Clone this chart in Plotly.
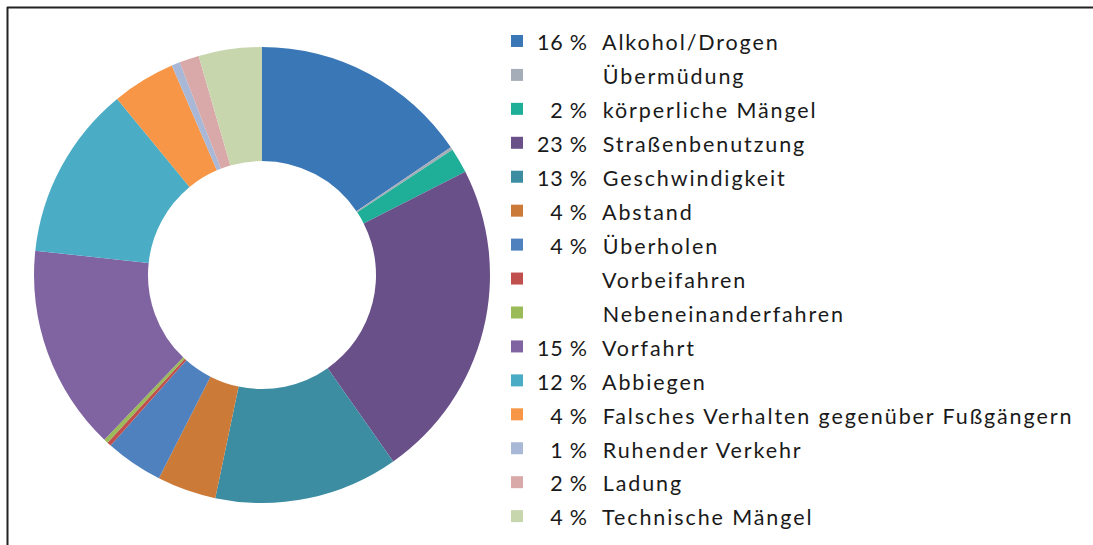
import plotly.graph_objects as go

categories = ["Alkohol/Drogen", "Übermüdung", "körperliche Mängel", "Straßenbenutzung",
              "Geschwindigkeit", "Abstand", "Überholen", "Vorbeifahren",
              "Nebeneinanderfahren", "Vorfahrt", "Abbiegen",
              "Falsches Verhalten gegenüber Fußgängern", "Ruhender Verkehr",
              "Ladung", "Technische Mängel"]
values = [15.6, 0.2, 1.8, 22.8, 13.1, 4.2, 4.1, 0.3, 0.3, 14.6, 12.4, 4.5, 0.6, 1.4, 4.5]
pct_labels = ["16", "", "2", "23", "13", "4", "4", "", "", "15", "12", "4", "1", "2", "4"]
colors = ["#3A77B6", "#A5ADB8", "#1FAE98", "#6A5089", "#3C8CA2", "#CC7A38", "#4E81BE",
          "#C0504D", "#9BBB59", "#8064A2", "#4BACC6", "#F79646", "#A9B8D6", "#D9A9A9", "#C8D6AE"]

W, H = 1093, 545
INV = "<span style='fill:rgba(0,0,0,0);font-size:21.5px;letter-spacing:0.8px'>{}</span>"
VIS = "<span style='font-size:21.5px;letter-spacing:0.8px'>{}</span>"
NAME = "<span style='font-size:21.5px;letter-spacing:1.9px'>{}</span>"


def make_label(p, name):
    if p == "":
        head = INV.format("00\u00a0%")
    elif len(p) == 1:
        head = INV.format("0") + VIS.format(p + "\u00a0%")
    else:
        head = VIS.format(p + "\u00a0%")
    return head + NAME.format("\u00a0\u00a0" + name)


labels = [make_label(p, n) for p, n in zip(pct_labels, categories)]

cx, cy, R = 262, 275, 228
fig = go.Figure(go.Pie(
    labels=labels,
    values=values,
    hole=0.5,
    sort=False,
    direction="clockwise",
    rotation=0,
    textinfo="none",
    hoverinfo="label+percent",
    marker=dict(colors=colors, line=dict(width=0)),
    domain=dict(x=[(cx - R) / W, (cx + R) / W],
                y=[(H - cy - R) / H, (H - cy + R) / H]),
))

fig.update_layout(
    width=W, height=H,
    margin=dict(l=0, r=0, t=0, b=0),
    paper_bgcolor="white",
    plot_bgcolor="white",
    font=dict(family="Lato, sans-serif", color="#1a1a1a"),
    legend=dict(
        x=497 / W, xanchor="left",
        y=(H - 19) / H, yanchor="top",
        font=dict(size=23.8, family="Lato, sans-serif", color="#1a1a1a"),
        bgcolor="rgba(0,0,0,0)",
        traceorder="normal",
    ),
    shapes=[
        dict(type="line", xref="paper", yref="paper",
             x0=7 / W, x1=1.0, y0=(H - 7.5) / H, y1=(H - 7.5) / H,
             line=dict(color="#222222", width=2)),
        dict(type="line", xref="paper", yref="paper",
             x0=7.5 / W, x1=7.5 / W, y0=0, y1=(H - 7) / H,
             line=dict(color="#222222", width=2)),
    ],
)

fig.write_html("out.html",
               config={"displayModeBar": False},
               post_script="document.body.style.margin='0';"
                           "document.body.style.overflow='hidden';")
